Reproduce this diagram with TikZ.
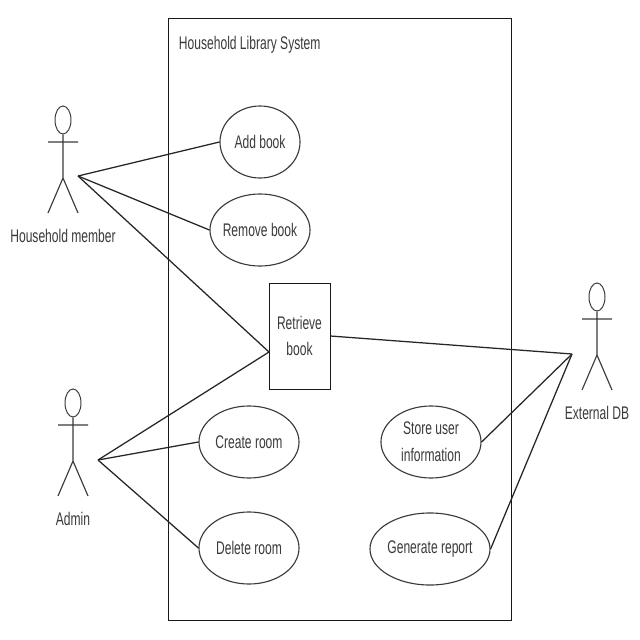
\documentclass[tikz,border=0pt]{standalone}
\usepackage{xcolor}
\usepackage{fontspec}
\setmainfont[FakeStretch=0.66]{Liberation Sans}
\usepackage{tikz}
\usetikzlibrary{shapes}
\definecolor{linegray}{HTML}{3A3A3A}
\tikzset{
  usecase/.style={ellipse,draw=linegray,line width=0.8pt,inner sep=-14pt,minimum height=1.8cm,align=center,font=\fontsize{13}{19}\selectfont,text=linegray},
  label/.style={font=\fontsize{13}{19}\selectfont,text=linegray},
  assoc/.style={draw=black!85,line width=0.9pt},
  actor/.pic={
    \node [ellipse,draw=linegray,line width=0.7pt,inner sep=0pt,minimum width=0.4cm,minimum height=0.7cm] (-head) at (0,14) {};
    \draw [linegray,line width=0.8pt] (-head.south) -- (0,72) (-15,36) -- (15,36) (-15,107) -- (0,72) -- (15,107);
  }
}

\begin{document}
\begin{tikzpicture}[x=0.025cm,y=-0.025cm]
  \useasboundingbox (0,0) rectangle (640,640);
  % system boundary
  \node [draw=black!90,line width=0.6pt,inner sep=0pt,minimum width=8.575cm,minimum height=15.05cm] (system) at (339.5,319) {};
  \node [label,anchor=west] (title) at (174,45) {Household Library System};

  % actors
  \pic (member) at (63,106) {actor};
  \pic (admin) at (73,389) {actor};
  \pic (extdb) at (597,283) {actor};
  \node [label] (memberlabel) at (63,236) {Household member};
  \node [label] (adminlabel) at (73,519) {Admin};
  \node [label] (extdblabel) at (597,413) {External DB};
  \coordinate (memberend) at (78,176);
  \coordinate (adminend) at (98,460);
  \coordinate (extdbend) at (572,354);

  % use cases
  \node [usecase,minimum width=2cm] (add) at (260,142) {Add book};
  \node [usecase,minimum width=2.5cm] (remove) at (260,230) {Remove book};
  \node [draw=black!90,line width=0.7pt,inner sep=0pt,minimum width=1.525cm,minimum height=2.65cm,align=center,font=\fontsize{13}{16}\selectfont,text=linegray] (retrieve) at (299.5,336) {Retrieve\\[3pt]book};
  \node [usecase,minimum width=2.5cm] (create) at (249,442) {Create room};
  \node [usecase,minimum width=2.5cm] (delete) at (249,548) {Delete room};
  \node [usecase,minimum width=2.5cm] (store) at (431,442) {Store user\\information};
  \node [usecase,minimum width=3cm] (report) at (430,549) {Generate report};
  \coordinate (retrievein) at (269,352);

  % associations
  \draw [assoc] (memberend) -- (add.west);
  \draw [assoc] (memberend) -- (remove.west);
  \draw [assoc] (memberend) -- (retrievein);
  \draw [assoc] (adminend) -- (retrievein);
  \draw [assoc] (adminend) -- (create.west);
  \draw [assoc] (adminend) -- (delete.west);
  \draw [assoc] (retrieve.east) -- (extdbend);
  \draw [assoc] (store.east) -- (extdbend);
  \draw [assoc] (report.east) -- (extdbend);
\end{tikzpicture}
\end{document}
